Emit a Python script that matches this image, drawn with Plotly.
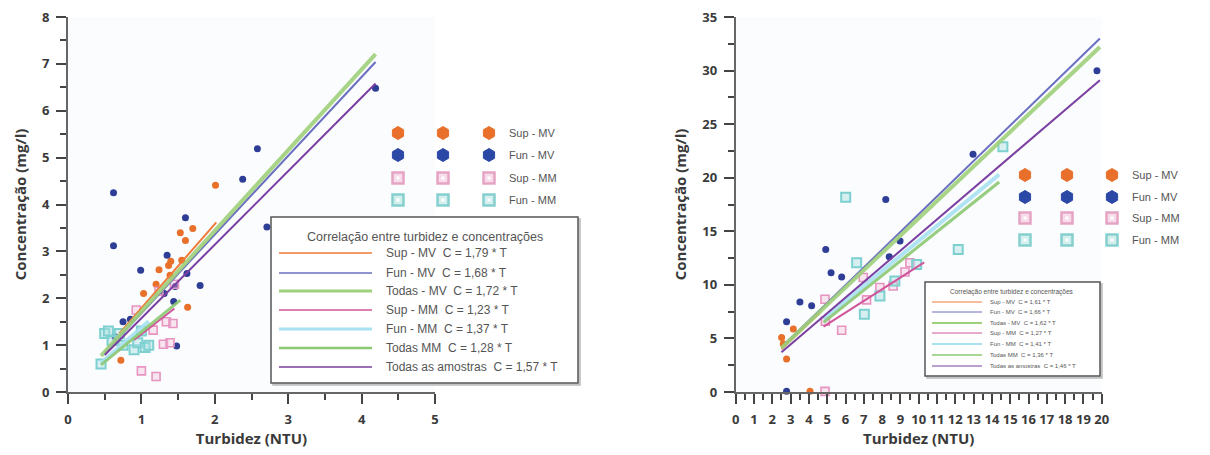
import plotly.graph_objects as go

# page body adds an 8px margin, so the figure is drawn 8px in from the window edge
OFF = 8
W, H = 1210 - OFF, 455 - OFF

# ---------------- data: left chart ----------------
L_sup_mv_x = [0.72, 1.03, 1.20, 1.24, 1.37, 1.39, 1.40, 1.53, 1.55, 1.60, 1.63, 1.70, 2.01]
L_sup_mv_y = [0.68, 2.10, 2.30, 2.61, 2.70, 2.49, 2.79, 3.40, 2.81, 3.23, 1.81, 3.49, 4.41]
L_fun_mv_x = [0.62, 0.62, 0.64, 0.75, 0.85, 0.99, 1.31, 1.35, 1.44, 1.46, 1.48, 1.60, 1.62, 1.80, 2.38, 2.58, 2.71, 4.19]
L_fun_mv_y = [4.25, 3.12, 1.18, 1.50, 1.55, 2.60, 2.10, 2.92, 1.93, 2.25, 0.98, 3.72, 2.53, 2.27, 4.54, 5.19, 3.52, 6.48]
L_sup_mm_x = [0.93, 1.00, 1.16, 1.20, 1.24, 1.30, 1.34, 1.39, 1.43, 1.45]
L_sup_mm_y = [1.75, 0.45, 1.32, 0.33, 2.15, 1.02, 1.50, 1.05, 1.46, 2.30]
L_fun_mm_x = [0.45, 0.50, 0.55, 0.60, 0.70, 0.75, 0.90, 0.95, 1.00, 1.05, 1.10]
L_fun_mm_y = [0.60, 1.25, 1.30, 1.10, 1.25, 1.00, 0.90, 1.05, 1.30, 0.95, 1.00]

# fitted lines (end points)
L_fit_x = [[0.70, 2.02], [0.50, 4.19], [0.45, 4.19], [0.90, 1.45], [0.45, 1.10], [0.45, 1.53], [0.50, 4.19]]
L_fit_y = [[1.25, 3.62], [0.84, 7.04], [0.77, 7.21], [1.11, 1.78], [0.62, 1.51], [0.58, 1.96], [0.79, 6.58]]
L_fit_labels = ["Sup - MV  C = 1,79 * T", "Fun - MV  C = 1,68 * T", "Todas - MV  C = 1,72 * T",
                "Sup - MM  C = 1,23 * T", "Fun - MM  C = 1,37 * T", "Todas MM  C = 1,28 * T",
                "Todas as amostras  C = 1,57 * T"]

# ---------------- data: right chart ----------------
R_sup_mv_x = [2.51, 2.60, 2.78, 3.15, 4.06]
R_sup_mv_y = [5.09, 4.50, 3.07, 5.87, 0.06]
R_fun_mv_x = [2.78, 2.78, 3.51, 4.15, 4.92, 5.21, 5.79, 8.20, 8.39, 8.98, 12.97, 19.74]
R_fun_mv_y = [0.06, 6.55, 8.41, 8.04, 13.30, 11.14, 10.74, 17.97, 12.63, 14.10, 22.20, 29.98]
R_sup_mm_x = [4.88, 4.88, 4.90, 5.79, 6.97, 7.15, 7.88, 8.60, 9.25, 9.52]
R_sup_mm_y = [0.06, 8.66, 6.60, 5.77, 10.68, 8.60, 9.75, 9.90, 11.20, 12.07]
R_fun_mm_x = [6.01, 6.61, 7.03, 7.88, 8.70, 9.89, 12.16, 14.60]
R_fun_mm_y = [18.18, 12.07, 7.26, 8.97, 10.36, 11.90, 13.30, 22.90]

R_fit_x = [[2.5, 4.6], [2.7, 19.9], [2.5, 19.9], [4.8, 10.3], [4.8, 14.4], [4.8, 14.4], [2.5, 19.9]]
R_fit_y = [[4.0, 7.4], [4.5, 33.0], [4.1, 32.2], [6.1, 12.1], [6.8, 20.3], [6.5, 19.6], [3.7, 29.1]]
R_fit_labels = ["Sup - MV  C = 1,61 * T", "Fun - MV  C = 1,66 * T", "Todas - MV  C = 1,62 * T",
                "Sup - MM  C = 1,27 * T", "Fun - MM  C = 1,41 * T", "Todas MM  C = 1,36 * T",
                "Todas as amostras  C = 1,46 * T"]

LEGEND_TITLE = "Correlação entre turbidez e concentrações"
SERIES_NAMES = ["Sup - MV", "Fun - MV", "Sup - MM", "Fun - MM"]
X_TITLE = "Turbidez (NTU)"
Y_TITLE = "Concentração (mg/l)"

# ---------------- styles ----------------
FIT_COLORS = ["#f07a3a", "#6a6fc0", "#9fd07a", "#d0559a", "#a8e2f2", "#8cc872", "#7a3fa0"]
FIT_WIDTHS = [2, 2, 4, 2, 4, 3, 2]
MARK_STYLE = [
    dict(symbol="circle", size=7, color="#e8702a", line=dict(width=0)),
    dict(symbol="circle", size=7, color="#2e3d96", line=dict(width=0)),
    dict(symbol="square", size=8, color="rgba(240,190,215,0.35)", line=dict(width=1.6, color="#e794c0")),
    dict(symbol="square", size=9, color="rgba(170,225,225,0.45)", line=dict(width=2, color="#7dd0d0")),
]
LEG_MARK_FILL = ["#e8702a", "#2b48a6", "#f7dce9", "#d3efef"]
LEG_MARK_LINE = ["#e8702a", "#2b48a6", "#e6a4c4", "#86cfcf"]

fig = go.Figure()

def add_chart(xa, ya, pts, fits_x, fits_y):
    for (xs, ys), st, nm in zip(pts, MARK_STYLE, SERIES_NAMES):
        fig.add_trace(go.Scatter(x=xs, y=ys, mode="markers", marker=st, name=nm,
                                 xaxis=xa, yaxis=ya, cliponaxis=False, showlegend=False))
    for fx, fy, c, w in zip(fits_x, fits_y, FIT_COLORS, FIT_WIDTHS):
        fig.add_trace(go.Scatter(x=fx, y=fy, mode="lines", line=dict(color=c, width=w),
                                 opacity=0.9 if w > 2 else 1, xaxis=xa, yaxis=ya,
                                 showlegend=False, hoverinfo="skip"))

add_chart("x", "y",
          [(L_sup_mv_x, L_sup_mv_y), (L_fun_mv_x, L_fun_mv_y), (L_sup_mm_x, L_sup_mm_y), (L_fun_mm_x, L_fun_mm_y)],
          L_fit_x, L_fit_y)
add_chart("x2", "y2",
          [(R_sup_mv_x, R_sup_mv_y), (R_fun_mv_x, R_fun_mv_y), (R_sup_mm_x, R_sup_mm_y), (R_fun_mm_x, R_fun_mm_y)],
          R_fit_x, R_fit_y)

AX_COL = "#666666"
TICK_COL = "#444444"
TXT_COL = "#3a3a3a"
tickfont = dict(family="Open Sans", size=13, color=TXT_COL, weight="bold")
titlefont = dict(family="Open Sans", size=15, color=TXT_COL, weight="bold")

def PX(x):
    return (x - OFF) / W

def PY(y):
    return 1 - (y - OFF) / H

def P(x, y):
    return PX(x), PY(y)

def axis(dom, rng, dtick, minor, anchor, title, standoff):
    return dict(domain=dom, range=rng, tickmode="linear", tick0=0, dtick=dtick, anchor=anchor,
                showgrid=False, zeroline=False,
                showline=True, linecolor=AX_COL, linewidth=2, ticks="outside", ticklen=10,
                tickwidth=2, tickcolor=TICK_COL, tickfont=tickfont, ticklabelstandoff=4,
                ticklabeloverflow="allow",
                minor=dict(ticks="outside", dtick=minor, ticklen=6, tickwidth=1.5, tickcolor=TICK_COL),
                title=dict(text=title, font=titlefont, standoff=standoff))

ydom = [PY(392), PY(17)]
layout = dict(
    width=W, height=H, margin=dict(l=0, r=0, t=0, b=0, autoexpand=False),
    paper_bgcolor="white", plot_bgcolor="#fbfcfe", showlegend=False,
    xaxis=axis([PX(68), PX(435)], [0, 5], 1, 0.5, "y", X_TITLE, 0),
    yaxis=axis(ydom, [0, 8], 1, 0.5, "x", Y_TITLE, 12),
    xaxis2=axis([PX(735.7), PX(1101.7)], [0, 20], 1, 0.5, "y2", X_TITLE, 0),
    yaxis2=axis(ydom, [0, 35], 5, 2.5, "x2", Y_TITLE, 12),
)
fig.update_layout(**layout)

# ---------------- legends (layout decorations) ----------------
shapes, annos = [], []

def line_legend(box, title_y, rows_y, sx0, sx1, tx, labels, fsize, tsize, title_x):
    x0, y0, x1, y1 = box
    a, b = P(x0, y0); c, d = P(x1, y1)
    shapes.append(dict(type="rect", xref="paper", yref="paper", x0=a + 2 / W, y0=d - 2 / H, x1=c + 2 / W, y1=b - 2 / H,
                       line=dict(color="#bbbbbb", width=1.5), fillcolor="#dddddd", layer="above"))
    shapes.append(dict(type="rect", xref="paper", yref="paper", x0=a, y0=d, x1=c, y1=b,
                       line=dict(color="#555555", width=1.5), fillcolor="white", layer="above"))
    tx_, ty_ = P(title_x, title_y)
    annos.append(dict(text=LEGEND_TITLE, xref="paper", yref="paper", x=tx_, y=ty_, showarrow=False,
                      xanchor="center", yanchor="middle", font=dict(family="Liberation Sans", size=tsize, color="#555")))
    for ry, lab, col, w in zip(rows_y, labels, FIT_COLORS, FIT_WIDTHS):
        u0, v = P(sx0, ry); u1, _ = P(sx1, ry)
        shapes.append(dict(type="line", xref="paper", yref="paper", x0=u0, x1=u1, y0=v, y1=v,
                           line=dict(color=col, width=max(1.5, w * 0.8) if fsize > 8 else max(1, w * 0.5)),
                           layer="above"))
        tx0, _ = P(tx, ry)
        annos.append(dict(text=lab, xref="paper", yref="paper", x=tx0, y=v, showarrow=False,
                          xanchor="left", yanchor="middle", font=dict(family="Liberation Sans", size=fsize, color="#555")))

def mark_legend(cols, rows, tx, fsize):
    hexp = "M 0,6.5 L 5.6,3.25 L 5.6,-3.25 L 0,-6.5 L -5.6,-3.25 L -5.6,3.25 Z"
    for i, ry in enumerate(rows):
        for cx in cols:
            xa, ya = P(cx, ry)
            if i < 2:
                shapes.append(dict(type="path", xref="paper", yref="paper", xsizemode="pixel", ysizemode="pixel",
                                   xanchor=xa, yanchor=ya, path=hexp, fillcolor=LEG_MARK_FILL[i],
                                   line=dict(color=LEG_MARK_LINE[i], width=1), layer="above"))
            else:
                shapes.append(dict(type="rect", xref="paper", yref="paper", xsizemode="pixel", ysizemode="pixel",
                                   xanchor=xa, yanchor=ya, x0=-5.5, x1=5.5, y0=-5.5, y1=5.5, fillcolor=LEG_MARK_FILL[i],
                                   line=dict(color=LEG_MARK_LINE[i], width=2.5), layer="above"))
                shapes.append(dict(type="rect", xref="paper", yref="paper", xsizemode="pixel", ysizemode="pixel",
                                   xanchor=xa, yanchor=ya, x0=-1.5, x1=1.5, y0=-1.5, y1=1.5, fillcolor="white",
                                   line=dict(width=0), layer="above"))
        tx0, ty0 = P(tx, ry)
        annos.append(dict(text=SERIES_NAMES[i], xref="paper", yref="paper", x=tx0, y=ty0, showarrow=False,
                          xanchor="left", yanchor="middle", font=dict(family="Liberation Sans", size=fsize, color="#555")))

# left
mark_legend([398, 443, 489], [133, 155, 178, 200], 507, 11)
line_legend((271, 217, 578, 383), 237, [253, 273, 291, 310, 329, 348, 367], 279, 372, 384,
            L_fit_labels, 12, 12.5, 425)
# right
mark_legend([1025, 1067, 1112], [175, 197, 218, 240], 1130, 11)
line_legend((925, 282, 1100, 376), 292, [302, 312, 323, 333, 344, 355, 366], 932, 982, 988,
            R_fit_labels, 6, 6.5, 1012)

fig.update_layout(shapes=shapes, annotations=annos)
fig.write_html("out.html")
